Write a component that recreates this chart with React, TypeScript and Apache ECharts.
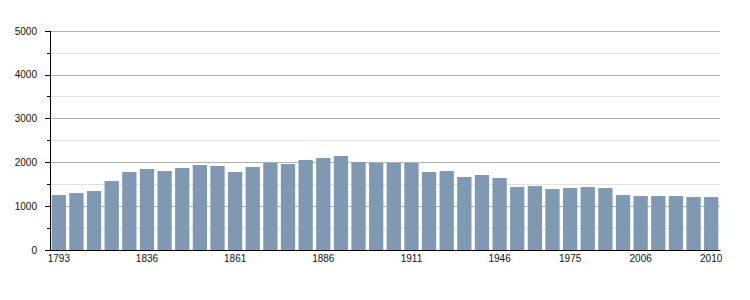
import React, { useEffect, useRef } from "react";
import * as echarts from "echarts";

const years = [
  "1793", "1800", "1806", "1821", "1831", "1836", "1841", "1846", "1851", "1856",
  "1861", "1866", "1872", "1876", "1881", "1886", "1891", "1896", "1901", "1906",
  "1911", "1921", "1926", "1931", "1936", "1946", "1954", "1962", "1968", "1975",
  "1982", "1990", "1999", "2006", "2007", "2008", "2009", "2010",
];

const population = [
  1255, 1300, 1346, 1574, 1780, 1848, 1802, 1871, 1939, 1916,
  1780, 1894, 1985, 1962, 2053, 2099, 2145, 2008, 1985, 1985,
  1985, 1780, 1802, 1665, 1711, 1643, 1437, 1460, 1392, 1415,
  1437, 1415, 1255, 1232, 1232, 1232, 1209, 1209,
];

const shownLabels = ["1793", "1836", "1861", "1886", "1911", "1946", "1975", "2006", "2010"];

const yTicks = { min: 0, max: 5000, interval: 1000 };

export default function App() {
  const ref = useRef<HTMLDivElement>(null);
  useEffect(() => {
    if (!ref.current) return;
    const chart = echarts.init(ref.current, null, { renderer: "svg" });
    const font = "'Liberation Sans', Arial, sans-serif";
    chart.setOption({
      animation: false,
      grid: { left: 50, right: 30, top: 31, bottom: 50, containLabel: false },
      xAxis: {
        type: "category",
        data: years,
        boundaryGap: true,
        z: 3,
        axisLine: { show: true, lineStyle: { color: "#000", width: 1 } },
        axisTick: { show: false },
        axisLabel: {
          interval: (index: number, value: string) => shownLabels.includes(value),
          color: "#111",
          fontSize: 10,
          fontFamily: font,
          margin: 3,
        },
        splitLine: { show: false },
      },
      yAxis: {
        type: "value",
        min: yTicks.min,
        max: yTicks.max,
        interval: yTicks.interval,
        axisLine: { show: true, lineStyle: { color: "#000", width: 1 } },
        axisTick: { show: true, length: 5, lineStyle: { color: "#000" } },
        minorTick: { show: true, splitNumber: 2, length: 3, lineStyle: { color: "#000" } },
        splitLine: { show: true, lineStyle: { color: "#b0b0b0", width: 1 } },
        minorSplitLine: { show: true, lineStyle: { color: "#e2e2e2", width: 1 } },
        axisLabel: {
          color: "#111",
          fontSize: 10,
          fontFamily: font,
          margin: 13,
          formatter: (v: number) => String(v),
        },
      },
      series: [
        {
          type: "bar",
          data: population,
          barCategoryGap: "19%",
          itemStyle: { color: "#7f99b2" },
        },
      ],
    });
    return () => chart.dispose();
  }, []);
  return (
    <div
      ref={ref}
      style={{ position: "absolute", left: 0, top: 0, width: 750, height: 300 }}
    />
  );
}
